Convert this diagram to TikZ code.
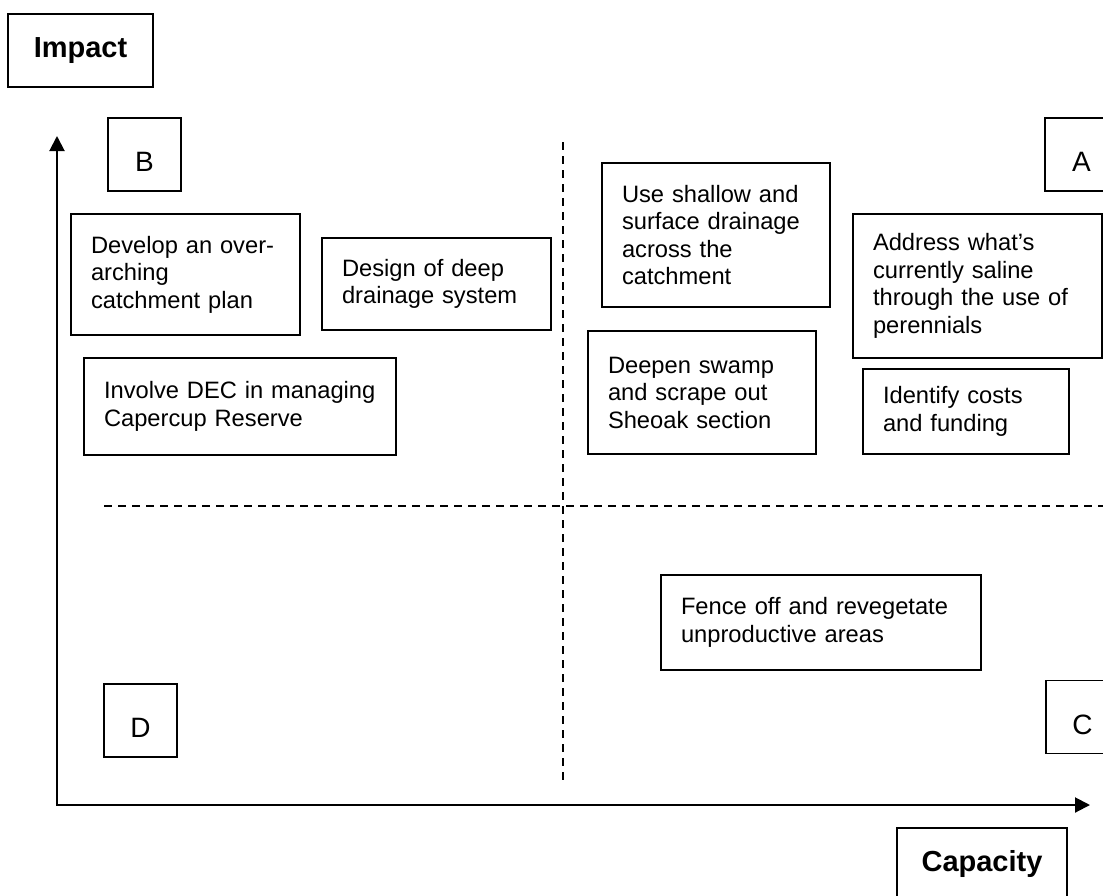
\documentclass[tikz,border=0pt]{standalone}
\usepackage{fontspec}
\setmainfont{Liberation Sans}
\usetikzlibrary{arrows.meta}
\newcommand{\lowletter}[1]{\raisebox{-17pt}[0pt][0pt]{#1}}
\begin{document}
\begin{tikzpicture}[x=1pt,y=-1pt,
  box/.style={draw, line width=1.3pt, align=left, inner xsep=20pt, inner ysep=0pt,
    font=\fontsize{23.7}{27.5}\selectfont},
  letter/.style={draw, line width=1.3pt, minimum width=73pt, minimum height=73pt, inner sep=0pt,
    font=\fontsize{28}{30}\selectfont},
  axislabel/.style={draw, line width=1.3pt, inner sep=0pt, font=\fontsize{29}{31}\selectfont\bfseries},
  axis/.style={line width=2pt, {Triangle[length=15pt,width=15pt]}-{Triangle[length=15pt,width=15pt]}},
  divider/.style={line width=1.3pt, dash pattern=on 8pt off 6pt}]
\path[use as bounding box] (0,0) rectangle (1103,895);
\clip (0,0) rectangle (1103,895);

% axes
\coordinate (ytip) at (57,136);
\coordinate (xtip) at (1090,805);
\draw[axis] (ytip) |- (xtip);

% quadrant dividers
\coordinate (vtop) at (563,142);
\coordinate (vbot) at (563,780);
\coordinate (hleft) at (104,506);
\coordinate (hright) at (1103,506);
\draw[divider] (vtop) -- (vbot);
\draw[divider] (hleft) -- (hright);

% axis labels
\node[axislabel, minimum width=145pt, minimum height=73pt] (impact) at (80.5,50.5) {Impact};
\node[axislabel, minimum width=170pt, minimum height=72pt] (capacity) at (982,864) {Capacity};

% quadrant letters
\node[letter] (qA) at (1081.5,154.5) {\lowletter{A}};
\node[letter] (qB) at (144.5,154.5) {\lowletter{B}};
\node[letter] (qC) at (1082.5,717) {\lowletter{C}};
\node[letter] (qD) at (140.5,720.5) {\lowletter{D}};

% boxes
\node[box, minimum width=229pt, minimum height=121pt, text width=189pt] (develop) at (185.5,274.5)
  {Develop an over-\\arching\\catchment plan};
\node[box, minimum width=229pt, minimum height=92pt, text width=189pt] (design) at (436.5,284)
  {Design of deep\\drainage system};
\node[box, minimum width=312pt, minimum height=97pt, text width=272pt] (involve) at (240,406.5)
  {Involve DEC in managing\\Capercup Reserve};
\node[box, minimum width=228pt, minimum height=144pt, text width=188pt] (shallow) at (716,235)
  {Use shallow and\\surface drainage\\across the\\catchment};
\node[box, minimum width=249pt, minimum height=144pt, text width=209pt] (address) at (977.5,286)
  {Address what’s\\currently saline\\through the use of\\perennials};
\node[box, minimum width=228pt, minimum height=123pt, text width=188pt] (deepen) at (702,392.5)
  {Deepen swamp\\and scrape out\\Sheoak section};
\node[box, minimum width=206pt, minimum height=85pt, text width=166pt] (identify) at (966,411.5)
  {Identify costs\\and funding};
\node[box, minimum width=320pt, minimum height=95pt, text width=280pt] (fence) at (821,622.5)
  {Fence off and revegetate\\unproductive areas};
\end{tikzpicture}
\end{document}
